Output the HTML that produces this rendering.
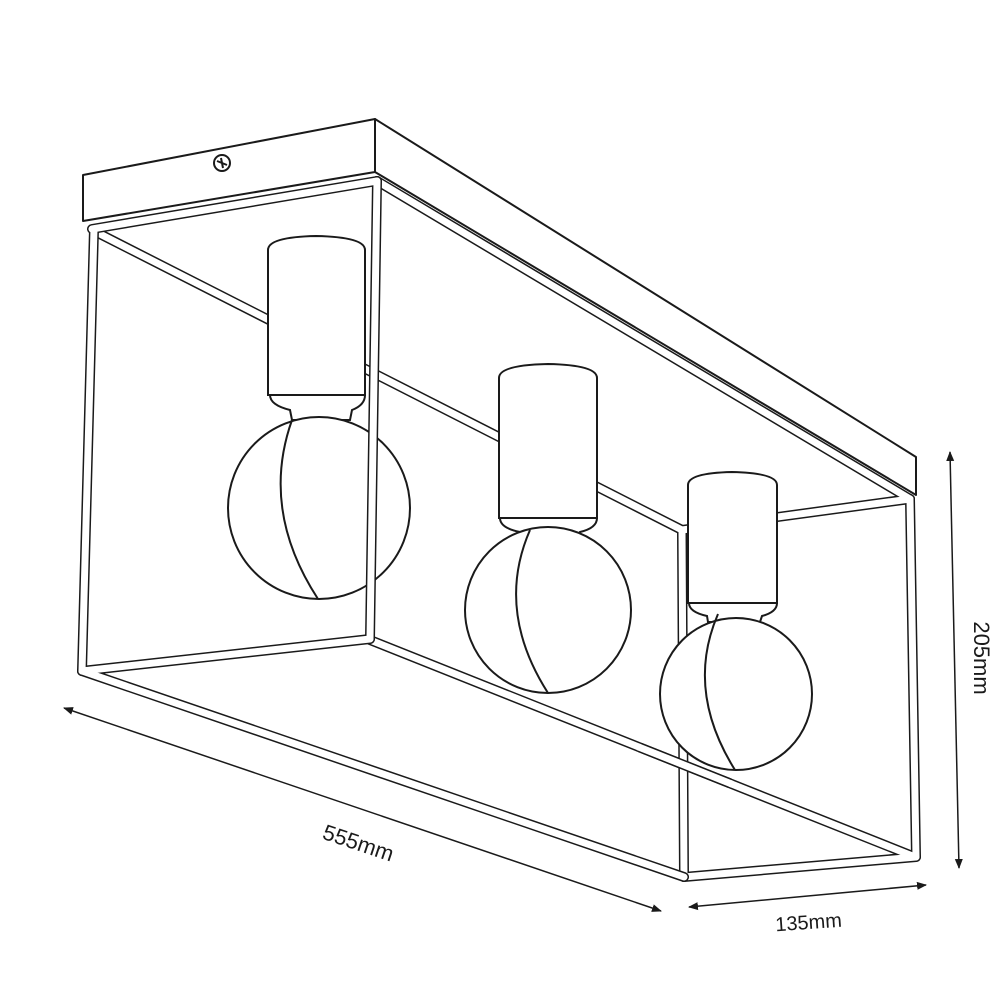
<!DOCTYPE html>
<html><head><meta charset="utf-8"><style>
html,body{margin:0;padding:0;background:#fff;width:1000px;height:1000px;overflow:hidden}
svg{display:block}
text{font-family:"Liberation Sans",sans-serif;fill:#1a1a1a}
</style></head><body>
<svg width="1000" height="1000" viewBox="0 0 1000 1000" xmlns="http://www.w3.org/2000/svg">
<defs>
<marker id="ah" viewBox="0 0 10 10" refX="9" refY="5" markerWidth="10" markerHeight="10" orient="auto-start-reverse" markerUnits="userSpaceOnUse"><path d="M0,1 L10,5 L0,9 z" fill="#1a1a1a"/></marker>
</defs>
<g stroke-linecap="round" fill="none">
<g stroke="#1a1a1a" stroke-width="10">
<line x1="377" y1="181" x2="910" y2="499"/>
<line x1="96" y1="232" x2="682" y2="530"/>
<line x1="370" y1="640" x2="915" y2="857"/>
<line x1="682" y1="530" x2="910" y2="499"/>
<line x1="910" y1="499" x2="916" y2="857"/>
<line x1="682" y1="530" x2="684" y2="877"/>
<line x1="684" y1="877" x2="916" y2="857"/>
</g>
<g stroke="#fff" stroke-width="7">
<line x1="377" y1="181" x2="910" y2="499"/>
<line x1="96" y1="232" x2="682" y2="530"/>
<line x1="370" y1="640" x2="915" y2="857"/>
<line x1="682" y1="530" x2="910" y2="499"/>
<line x1="910" y1="499" x2="916" y2="857"/>
<line x1="682" y1="530" x2="684" y2="877"/>
<line x1="684" y1="877" x2="916" y2="857"/>
</g>
</g>
<g stroke="#1a1a1a" stroke-width="2" fill="#fff">
<path d="M268,250 Q268,237 316,236 Q365,237 365,250 L365,395 L268,395 Z"/>
<path d="M270,395 Q270,405 290,410 L292,420 L350,420 L352,410 Q365,405 365,395 Z"/>
<circle cx="319" cy="508" r="91"/>
<path d="M292,420 Q260,510 318,599" fill="none"/>
<path d="M499,378 Q499,365 548,364 Q597,365 597,378 L597,518 L499,518 Z"/>
<path d="M500,518 Q500,528 520,532 L521,538 L578,538 L580,532 Q597,528 597,518 Z"/>
<circle cx="548" cy="610" r="83"/>
<path d="M530,530 Q495,610 548,693" fill="none"/>
<path d="M688,485 Q688,473 732,472 Q777,473 777,485 L777,603 L688,603 Z"/>
<path d="M689,603 Q689,612 707,616 L708,622 L760,622 L762,616 Q777,612 777,603 Z"/>
<circle cx="736" cy="694" r="76"/>
<path d="M718,614 Q685,690 735,770" fill="none"/>
</g>
<!-- back bottom rod segment in front of bulb3 -->
<g stroke-linecap="butt" fill="none">
<line x1="640" y1="747.5" x2="730" y2="783.3" stroke="#1a1a1a" stroke-width="10"/>
<line x1="638" y1="746.7" x2="732" y2="784.1" stroke="#fff" stroke-width="7"/>
</g>
<g stroke-linecap="round" fill="none">
<g stroke="#1a1a1a" stroke-width="10">
<line x1="92" y1="229" x2="377" y2="181"/>
<line x1="94" y1="229" x2="82" y2="671"/>
<line x1="377" y1="181" x2="370" y2="639"/>
<line x1="82" y1="671" x2="370" y2="639"/>
<line x1="82" y1="671" x2="684" y2="877"/>
</g>
<g stroke="#fff" stroke-width="7">
<line x1="92" y1="229" x2="377" y2="181"/>
<line x1="94" y1="229" x2="82" y2="671"/>
<line x1="377" y1="181" x2="370" y2="639"/>
<line x1="82" y1="671" x2="370" y2="639"/>
<line x1="82" y1="671" x2="684" y2="877"/>
</g>
</g>
<g stroke="#1a1a1a" stroke-width="2" fill="#fff" stroke-linejoin="round">
<path d="M375,119 L916,457 L916,495 L375,172 Z"/>
<path d="M83,175 L375,119 L375,172 L83,221 Z"/>
<circle cx="222" cy="163" r="8"/>
<path d="M217,161 L227,165 M221,158 L223,168" />
</g>
<g stroke="#1a1a1a" stroke-width="1.5">
<line x1="950" y1="452" x2="959" y2="868" marker-start="url(#ah)" marker-end="url(#ah)"/>
<line x1="64" y1="708" x2="661" y2="911" marker-start="url(#ah)" marker-end="url(#ah)"/>
<line x1="689" y1="907" x2="926" y2="885" marker-start="url(#ah)" marker-end="url(#ah)"/>
</g>
<text x="0" y="0" font-size="22" text-anchor="middle" transform="translate(974,658) rotate(90)">205mm</text>
<text x="0" y="0" font-size="22" text-anchor="middle" transform="translate(356,850) rotate(18.5)">555mm</text>
<text x="0" y="0" font-size="20" text-anchor="middle" transform="translate(809,929) rotate(-4)">135mm</text>
</svg>
</body></html>
